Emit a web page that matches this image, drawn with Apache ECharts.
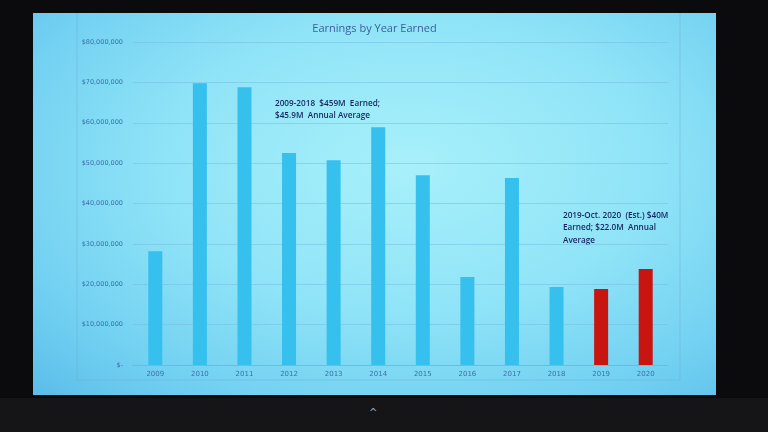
<!DOCTYPE html>
<html>
<head>
<meta charset="utf-8">
<script src="https://cdn.jsdelivr.net/npm/echarts@6/dist/echarts.min.js"></script>
<style>
  html, body { margin:0; padding:0; width:768px; height:432px; background:#0b0b0d; overflow:hidden; }
  #screen { position:absolute; left:33px; top:13px; width:683px; height:382px;
    background: radial-gradient(ellipse at 55% 40%, #a8f0fb 0%, #90e4f7 45%, #70cff1 80%, #5bbde9 100%); }
  #chart { position:absolute; left:0; top:0; width:683px; height:382px; }
  #bottom { position:absolute; left:0; top:398px; width:768px; height:34px; background:#151517; }
  #caret { position:absolute; left:369px; top:407px; color:#9aa; font:10px "DejaVu Sans"; }
</style>
</head>
<body>
<div id="bottom"></div>
<div id="caret">^</div>
<div id="screen"><div id="chart"></div></div>
<script>
const years = ['2009','2010','2011','2012','2013','2014','2015','2016','2017','2018','2019','2020'];
const earnings = [28200000, 69800000, 68800000, 52500000, 50700000, 58900000, 47000000, 21800000, 46300000, 19300000, 18800000, 23800000];
const highlightYears = ['2019','2020'];
const yTicks = [0, 10000000, 20000000, 30000000, 40000000, 50000000, 60000000, 70000000, 80000000];
const titleText = 'Earnings by Year Earned';
const note1 = ['2009-2018  $459M  Earned;', '$45.9M  Annual Average'];
const note2 = ['2019-Oct. 2020  (Est.) $40M', 'Earned; $22.0M  Annual', 'Average'];

const blue = '#36c0ee';
const red = '#c8150f';

const chart = echarts.init(document.getElementById('chart'), null, {renderer:'canvas'});
chart.setOption({
  animation: false,
  title: {
    text: titleText, left: 'center', top: 5,
    textStyle: { color: '#3a5f9c', fontSize: 11, fontWeight: 'normal', fontFamily: 'Open Sans' }
  },
  grid: { left: 100, right: 48, top: 29, bottom: 30 },
  xAxis: {
    type: 'category', data: years,
    axisLine: { lineStyle: { color: 'rgba(110,175,215,0.6)' } },
    axisTick: { show: false },
    axisLabel: { color: '#3d6fae', fontSize: 7, fontFamily: 'DejaVu Sans', margin: 6 }
  },
  yAxis: {
    type: 'value', min: yTicks[0], max: yTicks[yTicks.length-1], interval: 10000000,
    axisLine: { show: false }, axisTick: { show: false },
    splitLine: { lineStyle: { color: 'rgba(120,190,225,0.55)', width: 1 } },
    axisLabel: {
      color: '#3d6fae', fontSize: 6.5, fontFamily: 'DejaVu Sans', margin: 10,
      formatter: v => v === 0 ? '$-' : '$' + v.toLocaleString('en-US')
    }
  },
  series: [{
    type: 'bar',
    data: earnings.map((v, i) => ({ value: v, itemStyle: { color: highlightYears.includes(years[i]) ? red : blue } })),
    barWidth: 14
  }],
  graphic: [
    { type: 'polyline', silent: true,
      shape: { points: [[44, 0], [44, 367], [647, 367], [647, 0]] },
      style: { stroke: 'rgba(110,170,210,0.45)', lineWidth: 1, fill: null } },
    { type: 'text', left: 242, top: 84,
      style: { text: note1.join('\n'), fill: '#16245e', font: '600 8.2px "Open Sans"', lineHeight: 12.5 } },
    { type: 'text', left: 530, top: 196,
      style: { text: note2.join('\n'), fill: '#16245e', font: '600 8.2px "Open Sans"', lineHeight: 12.5 } }
  ]
});
</script>
</body>
</html>
